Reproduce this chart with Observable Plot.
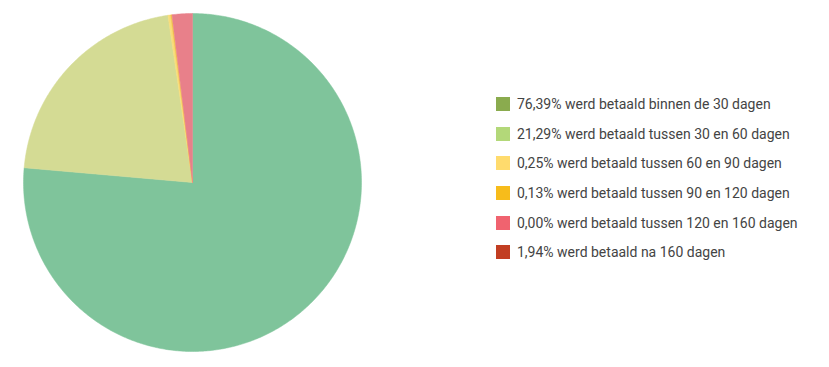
<!DOCTYPE html>
<html>
<head>
<meta charset="utf-8">
<script src="https://cdn.jsdelivr.net/npm/d3@7"></script>
<script src="https://cdn.jsdelivr.net/npm/@observablehq/plot@0.6"></script>
<style>
  body { margin: 0; background: #fff; font-family: Roboto, sans-serif; }
  #wrap { position: relative; width: 829px; height: 367px; }
  #legend { position: absolute; left: 496px; top: 97px; font: 14px Roboto, sans-serif; color: #444; }
  .row { display: flex; align-items: center; height: 14px; margin-bottom: 15.7px; white-space: nowrap; }
  .sw { width: 14px; height: 14px; margin-right: 7px; flex: none; }
</style>
</head>
<body>
<div id="wrap"></div>
<script>
const labels = [
  "76,39% werd betaald binnen de 30 dagen",
  "21,29% werd betaald tussen 30 en 60 dagen",
  "0,25% werd betaald tussen 60 en 90 dagen",
  "0,13% werd betaald tussen 90 en 120 dagen",
  "0,00% werd betaald tussen 120 en 160 dagen",
  "1,94% werd betaald na 160 dagen"
];
const values = [76.39, 21.29, 0.25, 0.13, 0.00, 1.94];
const sliceColors = ["#7fc49b", "#d4db94", "#f8dc78", "#f3c24a", "#ea7f88", "#e8808a"];
const legendColors = ["#8aab4e", "#b3d879", "#ffdb6d", "#f7bc1b", "#f0636f", "#c23e22"];

const pie = d3.pie().sort(null).value(d => d.value)(values.map((v, i) => ({value: v, i})));
const pts = [];
pie.forEach((a, k) => {
  if (a.endAngle - a.startAngle <= 0) return;
  const n = Math.max(2, Math.ceil((a.endAngle - a.startAngle) / 0.01));
  pts.push({k, x: 0, y: 0});
  for (let j = 0; j <= n; j++) {
    const t = a.startAngle + (a.endAngle - a.startAngle) * j / n;
    pts.push({k, x: Math.sin(t), y: Math.cos(t)});
  }
  pts.push({k, x: 0, y: 0});
});

const marks = pie.filter(a => a.endAngle > a.startAngle).map(a =>
  Plot.line(pts.filter(p => p.k === a.data.i), {x: "x", y: "y", fill: sliceColors[a.data.i], stroke: sliceColors[a.data.i], strokeWidth: 0.5, curve: "linear"})
);

const chart = Plot.plot({
  width: 829,
  height: 367,
  x: {domain: [-1, 1], range: [23, 361], axis: null},
  y: {domain: [-1, 1], range: [351, 13], axis: null},
  marks
});
const wrap = document.getElementById("wrap");
wrap.appendChild(chart);

const lg = document.createElement("div");
lg.id = "legend";
labels.forEach((l, i) => {
  const r = document.createElement("div");
  r.className = "row";
  r.innerHTML = `<span class="sw" style="background:${legendColors[i]}"></span><span>${l}</span>`;
  lg.appendChild(r);
});
wrap.appendChild(lg);
</script>
</body>
</html>
